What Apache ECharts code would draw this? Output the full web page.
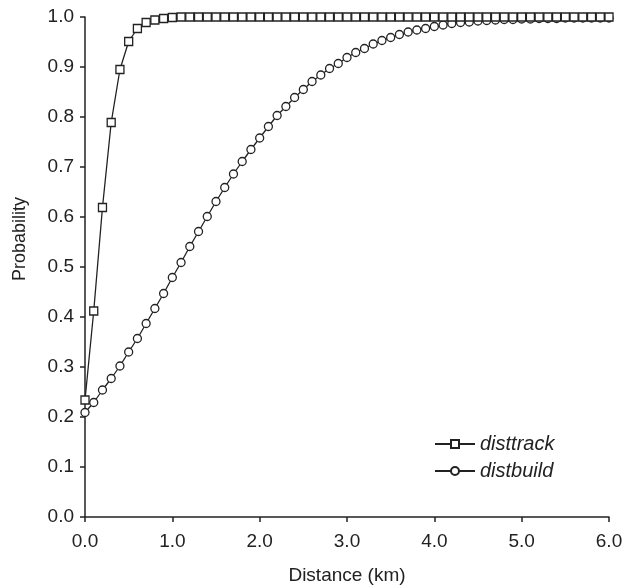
<!DOCTYPE html>
<html>
<head>
<meta charset="utf-8">
<script src="https://cdn.jsdelivr.net/npm/echarts@6/dist/echarts.min.js"></script>
<style>
  html, body { margin: 0; padding: 0; background: #fff; }
  #main { width: 622px; height: 585px; }
</style>
</head>
<body>
<div id="main"></div>
<script>
// distance along x (km)
var distance = [
  0.0, 0.1, 0.2, 0.3, 0.4, 0.5, 0.6, 0.7, 0.8, 0.9,
  1.0, 1.1, 1.2, 1.3, 1.4, 1.5, 1.6, 1.7, 1.8, 1.9,
  2.0, 2.1, 2.2, 2.3, 2.4, 2.5, 2.6, 2.7, 2.8, 2.9,
  3.0, 3.1, 3.2, 3.3, 3.4, 3.5, 3.6, 3.7, 3.8, 3.9,
  4.0, 4.1, 4.2, 4.3, 4.4, 4.5, 4.6, 4.7, 4.8, 4.9,
  5.0, 5.1, 5.2, 5.3, 5.4, 5.5, 5.6, 5.7, 5.8, 5.9,
  6.0
];

var disttrack = [
  0.234, 0.412, 0.619, 0.789, 0.895, 0.951, 0.977, 0.989, 0.994, 0.997,
  0.999, 1.000, 1.000, 1.000, 1.000, 1.000, 1.000, 1.000, 1.000, 1.000,
  1.000, 1.000, 1.000, 1.000, 1.000, 1.000, 1.000, 1.000, 1.000, 1.000,
  1.000, 1.000, 1.000, 1.000, 1.000, 1.000, 1.000, 1.000, 1.000, 1.000,
  1.000, 1.000, 1.000, 1.000, 1.000, 1.000, 1.000, 1.000, 1.000, 1.000,
  1.000, 1.000, 1.000, 1.000, 1.000, 1.000, 1.000, 1.000, 1.000, 1.000,
  1.000
];

var distbuild = [
  0.209, 0.229, 0.254, 0.277, 0.302, 0.330, 0.357, 0.387, 0.417, 0.447,
  0.479, 0.509, 0.541, 0.571, 0.601, 0.631, 0.659, 0.686, 0.711, 0.735,
  0.758, 0.781, 0.803, 0.821, 0.839, 0.855, 0.871, 0.884, 0.897, 0.907,
  0.919, 0.929, 0.937, 0.946, 0.953, 0.959, 0.965, 0.970, 0.974, 0.977,
  0.981, 0.984, 0.987, 0.989, 0.990, 0.992, 0.993, 0.994, 0.995, 0.995,
  0.996, 0.996, 0.997, 0.997, 0.997, 0.998, 0.998, 0.998, 0.998, 0.998,
  0.998
];

function pairs(xs, ys) {
  var out = [];
  for (var i = 0; i < xs.length; i++) {
    out.push([xs[i], ys[i]]);
  }
  return out;
}

var ink = '#222';
var font = 'Liberation Sans, Arial, sans-serif';

var myChart = echarts.init(document.getElementById('main'));
var option = {
  animation: false,
  backgroundColor: '#fff',
  grid: { left: 85, right: 13, top: 17, bottom: 68, outerBoundsMode: 'none', containLabel: false },
  legend: {
    orient: 'vertical',
    left: 429,
    top: 429,
    itemWidth: 40,
    itemHeight: 10,
    itemGap: 7,
    textStyle: { fontFamily: font, fontSize: 20, fontStyle: 'italic', color: ink },
    data: ['disttrack', 'distbuild']
  },
  xAxis: {
    type: 'value',
    min: 0,
    max: 6,
    interval: 1,
    name: 'Distance (km)',
    nameLocation: 'middle',
    nameGap: 49,
    nameTextStyle: { fontFamily: font, fontSize: 19, color: ink },
    axisLine: { lineStyle: { color: ink, width: 1.5 } },
    axisTick: { show: true, inside: false, length: 5, lineStyle: { color: ink, width: 1.5 } },
    axisLabel: {
      fontFamily: font, fontSize: 19, color: ink, margin: 15,
      formatter: function (v) { return v.toFixed(1); }
    },
    splitLine: { show: false }
  },
  yAxis: {
    type: 'value',
    min: 0,
    max: 1,
    interval: 0.1,
    name: 'Probability',
    nameLocation: 'middle',
    nameGap: 56,
    nameTextStyle: { fontFamily: font, fontSize: 18, color: ink, padding: [0, 0, 0, 56] },
    axisLine: { show: true, lineStyle: { color: ink, width: 1.5 } },
    axisTick: { show: true, inside: false, length: 5, lineStyle: { color: ink, width: 1.5 } },
    axisLabel: {
      fontFamily: font, fontSize: 19, color: ink, margin: 11,
      formatter: function (v) { return v.toFixed(1); }
    },
    splitLine: { show: false }
  },
  series: [
    {
      name: 'disttrack',
      type: 'line',
      data: pairs(distance, disttrack),
      symbol: 'rect',
      symbolSize: 8,
      z: 3,
      lineStyle: { color: ink, width: 1.3 },
      itemStyle: { color: '#fff', borderColor: ink, borderWidth: 1.3 }
    },
    {
      name: 'distbuild',
      type: 'line',
      data: pairs(distance, distbuild),
      symbol: 'circle',
      symbolSize: 8,
      z: 2,
      lineStyle: { color: ink, width: 1.3 },
      itemStyle: { color: '#fff', borderColor: ink, borderWidth: 1.3 }
    }
  ]
};
myChart.setOption(option);
</script>
</body>
</html>
